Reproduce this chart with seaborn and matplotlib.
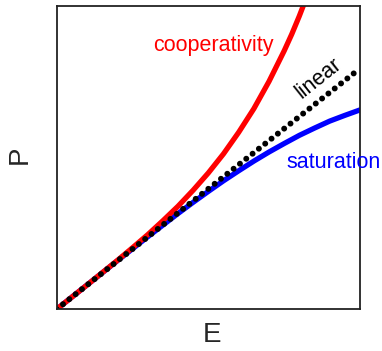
import matplotlib
matplotlib.use("Agg")
import matplotlib.pyplot as plt
import seaborn as sns
import pandas as pd

# Data (axes span 0..1 in both directions)
linear_x = [0.0, 1.0]
linear_y = [0.0, 0.795]

coop_x = [0.0, 0.1, 0.2, 0.25, 0.3, 0.35, 0.4, 0.45, 0.5, 0.55, 0.6, 0.65,
          0.7, 0.75, 0.775, 0.8, 0.82]
coop_y = [0.0, 0.08, 0.161, 0.203, 0.246, 0.292, 0.340, 0.393, 0.45, 0.513,
          0.584, 0.662, 0.752, 0.853, 0.908, 0.968, 1.02]

sat_x = [0.0, 0.1, 0.2, 0.3, 0.4, 0.45, 0.5, 0.55, 0.6, 0.65, 0.7, 0.75,
         0.8, 0.85, 0.9, 0.95, 1.0]
sat_y = [0.0, 0.08, 0.16, 0.239, 0.316, 0.353, 0.389, 0.424, 0.457, 0.489,
         0.519, 0.547, 0.574, 0.598, 0.621, 0.640, 0.658]

labels = ["cooperativity", "linear", "saturation"]
x_label = "E"
y_label = "P"

sns.set_style("white")
plt.rcParams["font.family"] = ["Liberation Sans", "DejaVu Sans"]

fig = plt.figure(figsize=(3.82, 3.51), dpi=100)
ax = fig.add_axes([0.1484, 0.119, 0.794, 0.863])

df_sat = pd.DataFrame({"E": sat_x, "P": sat_y})
df_coop = pd.DataFrame({"E": coop_x, "P": coop_y})
df_lin = pd.DataFrame({"E": linear_x, "P": linear_y})

sns.lineplot(data=df_sat, x="E", y="P", ax=ax, color="#0000ff", linewidth=3.8,
             sort=False, estimator=None)
sns.lineplot(data=df_coop, x="E", y="P", ax=ax, color="#ff0000", linewidth=3.8,
             sort=False, estimator=None)
sns.lineplot(data=df_lin, x="E", y="P", ax=ax, color="black", linewidth=4.3,
             sort=False, estimator=None, dashes=False)
lin_line = ax.get_lines()[-1]
lin_line.set_linestyle((0, (0.001, 1.35)))
lin_line.set_dash_capstyle("round")

ax.set_xlim(0, 1)
ax.set_ylim(0, 1)
ax.set_xticks([])
ax.set_yticks([])
ax.set_xlabel("")
ax.set_ylabel("")
for s in ax.spines.values():
    s.set_color("#222222")
    s.set_linewidth(1.3)

ax.text(0.515, 0.872, labels[0], color="#ff0000", fontsize=15.5,
        ha="center", va="center")
ax.text(0.865, 0.763, labels[1], color="black", fontsize=15.5,
        ha="center", va="center", rotation=38.5, rotation_mode="anchor")
ax.text(0.759, 0.485, labels[2], color="#0000ff", fontsize=15.5,
        ha="left", va="center", clip_on=False)

ax.text(-0.121, 0.509, y_label, transform=ax.transAxes, fontsize=20,
        ha="center", va="center", rotation=90)
ax.text(0.512, -0.085, x_label, transform=ax.transAxes, fontsize=20,
        ha="center", va="center")

fig.savefig("out.png", dpi=100)
